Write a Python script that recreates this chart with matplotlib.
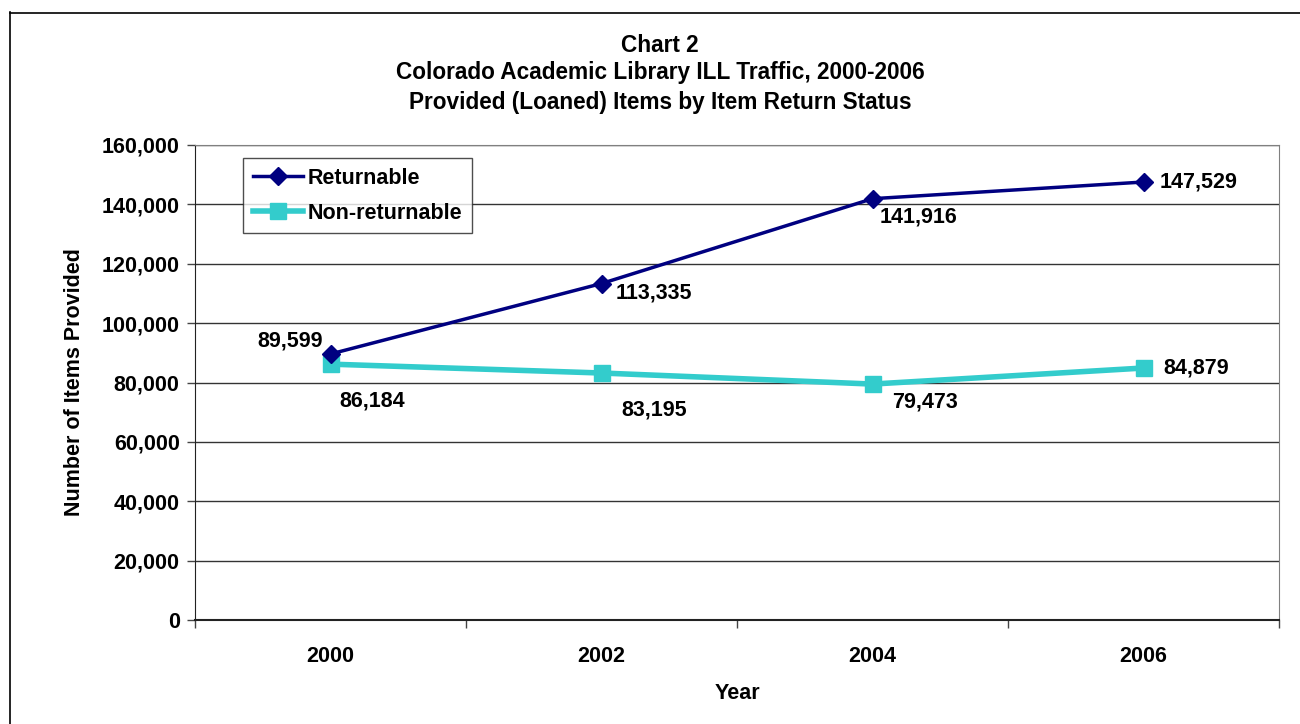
import matplotlib
matplotlib.use("Agg")
import matplotlib.pyplot as plt
from matplotlib.lines import Line2D
from matplotlib.ticker import FuncFormatter, FixedLocator

plt.rcParams['font.family'] = ['Liberation Sans', 'DejaVu Sans']
plt.rcParams['font.weight'] = 'bold'

years = ["2000", "2002", "2004", "2006"]
returnable = [89599, 113335, 141916, 147529]
non_returnable = [86184, 83195, 79473, 84879]
title_lines = ["Chart 2",
               "Colorado Academic Library ILL Traffic, 2000-2006",
               "Provided (Loaned) Items by Item Return Status"]

FS = 15.5
W, H = 1300, 724
fig = plt.figure(figsize=(W/100, H/100), dpi=100)
ax = fig.add_axes([195/W, 1-620/H, (1279-195)/W, (620-145)/H])

x = list(range(len(years)))
ax.plot(x, returnable, color='#000080', lw=2.5, marker='D', ms=9,
        markeredgecolor='#000080', label='Returnable', zorder=4)
ax.plot(x, non_returnable, color='#33CCCC', lw=4, marker='s', ms=12,
        markeredgecolor='#33CCCC', label='Non-returnable', zorder=3)

ax.set_xlim(-0.5, 3.5)
ax.set_ylim(0, 160000)
ax.set_yticks(range(0, 160001, 20000))
ax.yaxis.set_major_formatter(FuncFormatter(lambda v, p: f"{int(v):,}"))
ax.set_xticks(x)
ax.set_xticklabels(years)
ax.xaxis.set_minor_locator(FixedLocator([-0.5, 0.5, 1.5, 2.5, 3.5]))
ax.tick_params(axis='x', which='major', length=0, pad=19, labelsize=FS)
ax.tick_params(axis='x', which='minor', length=6, width=1, direction='out', color='#444444')
ax.tick_params(axis='y', length=6, width=1, direction='out', labelsize=FS, pad=5, color='#444444')
for lbl in ax.get_xticklabels() + ax.get_yticklabels():
    lbl.set_fontweight('bold')

ax.grid(axis='y', color='#333333', lw=1)
ax.set_axisbelow(True)
ax.spines['top'].set_color('#808080')
ax.spines['right'].set_color('#808080')
ax.spines['left'].set_color('#222222')
ax.spines['bottom'].set_color('#222222')
ax.spines['bottom'].set_linewidth(1.5)
for s in ax.spines.values():
    s.set_zorder(2)

ax.set_xlabel("Year", fontsize=FS, fontweight='bold', labelpad=11)
ax.set_ylabel("Number of Items Provided", fontsize=FS, fontweight='bold', labelpad=12)

# data labels (offsets in points)
ret_off = [(-29, 9.5), (38, -6.5), (33, -13), (39.5, 0)]
non_off = [(30, -26.5), (38, -26.5), (38, -13), (38, 0)]
for i in x:
    ax.annotate(f"{returnable[i]:,}", (i, returnable[i]), xytext=ret_off[i],
                textcoords='offset points', ha='center', va='center',
                fontsize=FS, fontweight='bold')
    ax.annotate(f"{non_returnable[i]:,}", (i, non_returnable[i]), xytext=non_off[i],
                textcoords='offset points', ha='center', va='center',
                fontsize=FS, fontweight='bold')

leg = ax.legend(loc='upper left', bbox_to_anchor=((243-195)/(1279-195), 1-(158-145)/(620-145)),
                fontsize=FS, frameon=True, fancybox=False, edgecolor='#222222',
                handlelength=2.35, borderpad=0.45, labelspacing=0.65, handletextpad=0.2,
                borderaxespad=0)
leg.get_frame().set_linewidth(1)
for t in leg.get_texts():
    t.set_fontweight('bold')

ys = [45, 73, 102]
for t, yy in zip(title_lines, ys):
    fig.text(660/W, 1-yy/H, t, ha='center', va='center', fontsize=16.3, fontweight='bold')

# outer chart border
fig.add_artist(Line2D([9.5/W, 9.5/W], [0, 1-12/H], transform=fig.transFigure, color='black', lw=1.2))
fig.add_artist(Line2D([9.5/W, 1], [1-12.5/H, 1-12.5/H], transform=fig.transFigure, color='black', lw=1.2))

fig.savefig("out.png", dpi=100)
